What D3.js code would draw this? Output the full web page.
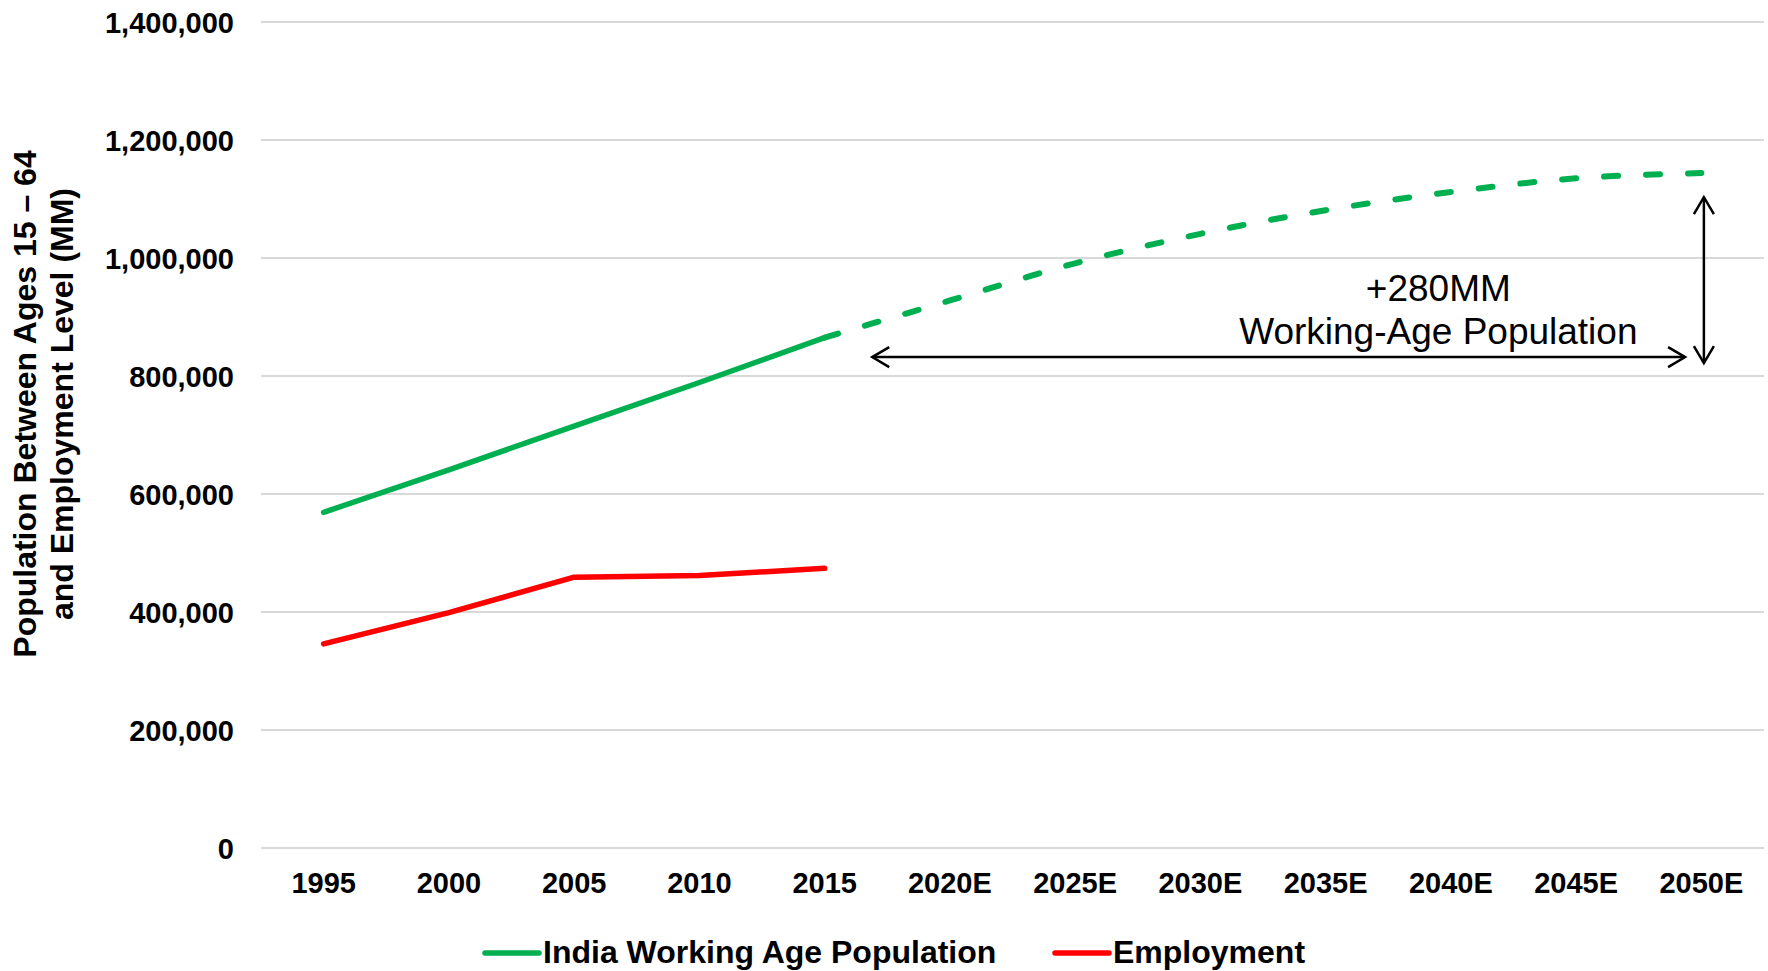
<!DOCTYPE html>
<html><head><meta charset="utf-8">
<script src="https://cdn.jsdelivr.net/npm/d3@7"></script>
<style>
body{margin:0;background:#fff}
svg{display:block}
text{font-family:"Liberation Sans",Arial,Helvetica,sans-serif}
</style>
</head><body>
<svg id="chart" width="1768" height="971"></svg>
<script>
// ---- data ----
const categories = ['1995','2000','2005','2010','2015','2020E','2025E','2030E','2035E','2040E','2045E','2050E'];
const actualYears = ['1995','2000','2005','2010','2015'];
const workingAgeActual = [569000, 641000, 715000, 789000, 865000];
const projectedYears = ['2015','2020E','2025E','2030E','2035E','2040E','2045E','2050E'];
const workingAgeProjected = [865000, 928000, 991000, 1041000, 1081000, 1112000, 1135000, 1144000];
const employment = [346000, 399000, 459000, 462000, 474000];
const yTicks = [0, 200000, 400000, 600000, 800000, 1000000, 1200000, 1400000];
const seriesNames = ['India Working Age Population', 'Employment'];
const seriesColors = ['#00B050', '#FF0000'];
const yTitleLines = ['Population Between Ages 15 \u2013 64', 'and Employment Level (MM)'];
const annotationLines = ['+280MM', 'Working-Age Population'];
// annotation anchors in data terms (category index, value)
const hArrow = {from: 4.38, to: 10.87, value: 832000};
const vArrow = {at: 11.02, from: 822000, to: 1103000};
const annotationAt = 8.9;

// ---- layout ----
const W = 1768, H = 971;
const plot = {left: 261, right: 1764, top: 22, bottom: 848};
const svg = d3.select('#chart');

const x = d3.scaleBand().domain(categories).range([plot.left, plot.right]).padding(0);
const cx = c => x(c) + x.bandwidth() / 2;
const xi = i => plot.left + x.step() * (i + 0.5);
const y = d3.scaleLinear().domain([0, 1400000]).range([plot.bottom, plot.top]);

// gridlines
svg.append('g').selectAll('line').data(yTicks).join('line')
  .attr('x1', plot.left).attr('x2', plot.right)
  .attr('y1', d => y(d)).attr('y2', d => y(d))
  .attr('stroke', '#D9D9D9').attr('stroke-width', 2);

// y axis labels
const yAxis = d3.axisLeft(y).tickValues(yTicks).tickSize(0).tickPadding(0)
  .tickFormat(d3.format(','));
const gy = svg.append('g').attr('transform', `translate(234,0)`).call(yAxis);
gy.select('.domain').remove();
gy.selectAll('text').attr('font-size', 29).attr('font-weight', 'bold')
  .attr('fill', '#000').attr('font-family', '"Liberation Sans",Arial,sans-serif').attr('dy', '0.36em');

// x axis labels
const xAxis = d3.axisBottom(x).tickSize(0).tickPadding(0);
const gx = svg.append('g').attr('transform', `translate(0,${plot.bottom})`).call(xAxis);
gx.select('.domain').remove();
gx.selectAll('text').attr('font-size', 29).attr('font-weight', 'bold')
  .attr('fill', '#000').attr('font-family', '"Liberation Sans",Arial,sans-serif')
  .attr('y', 45).attr('dy', 0);

// y title
const yt = svg.append('text')
  .attr('transform', 'translate(0,404) rotate(-90)')
  .attr('text-anchor', 'middle').attr('font-size', 32).attr('font-weight', 'bold').attr('fill', '#000');
yt.selectAll('tspan').data(yTitleLines).join('tspan')
  .attr('x', 0).attr('y', (d, i) => 36 + i * 37).text(d => d);

// lines
const line = d3.line().x(d => cx(d[0])).y(d => y(d[1]));
svg.append('path')
  .datum(d3.zip(actualYears, employment))
  .attr('d', line).attr('fill', 'none').attr('stroke', seriesColors[1])
  .attr('stroke-width', 5.5).attr('stroke-linecap', 'round').attr('stroke-linejoin', 'round');
svg.append('path')
  .datum(d3.zip(actualYears, workingAgeActual))
  .attr('d', line).attr('fill', 'none').attr('stroke', seriesColors[0])
  .attr('stroke-width', 5.5).attr('stroke-linecap', 'round').attr('stroke-linejoin', 'round');
const smooth = d3.line().x(d => cx(d[0])).y(d => y(d[1])).curve(d3.curveMonotoneX);
svg.append('path')
  .datum(d3.zip(projectedYears, workingAgeProjected))
  .attr('d', smooth).attr('fill', 'none').attr('stroke', seriesColors[0])
  .attr('stroke-width', 6).attr('stroke-linecap', 'round')
  .attr('stroke-dasharray', '14,28');

// arrow marker
const defs = svg.append('defs');
defs.append('marker').attr('id', 'chev')
  .attr('markerUnits', 'userSpaceOnUse').attr('markerWidth', 40).attr('markerHeight', 40)
  .attr('viewBox', '-20 -20 40 40').attr('refX', 0).attr('refY', 0)
  .attr('orient', 'auto-start-reverse')
  .append('path').attr('d', 'M-17,-10 L0,0 L-17,10')
  .attr('fill', 'none').attr('stroke', '#000').attr('stroke-width', 2.5);

svg.append('line')
  .attr('x1', xi(hArrow.from)).attr('x2', xi(hArrow.to))
  .attr('y1', y(hArrow.value)).attr('y2', y(hArrow.value))
  .attr('stroke', '#000').attr('stroke-width', 2.5)
  .attr('marker-start', 'url(#chev)').attr('marker-end', 'url(#chev)');
svg.append('line')
  .attr('x1', xi(vArrow.at)).attr('x2', xi(vArrow.at))
  .attr('y1', y(vArrow.from)).attr('y2', y(vArrow.to))
  .attr('stroke', '#000').attr('stroke-width', 2.5)
  .attr('marker-start', 'url(#chev)').attr('marker-end', 'url(#chev)');

// annotation text
svg.append('g').selectAll('text').data(annotationLines).join('text')
  .attr('x', xi(annotationAt)).attr('y', (d, i) => 301 + i * 43)
  .attr('text-anchor', 'middle').attr('font-size', 37).attr('fill', '#000')
  .text(d => d);

// legend
const legendX = [485, 1055];
const lg = svg.append('g').selectAll('g').data(seriesNames).join('g')
  .attr('transform', (d, i) => `translate(${legendX[i]},953)`);
lg.append('line').attr('x1', 0).attr('x2', 54).attr('y1', 0).attr('y2', 0)
  .attr('stroke', (d, i) => seriesColors[i]).attr('stroke-width', 5.5).attr('stroke-linecap', 'round');
lg.append('text').attr('x', 58).attr('y', 10)
  .attr('font-size', 32).attr('font-weight', 'bold').attr('fill', '#000').text(d => d);
</script>
</body></html>
